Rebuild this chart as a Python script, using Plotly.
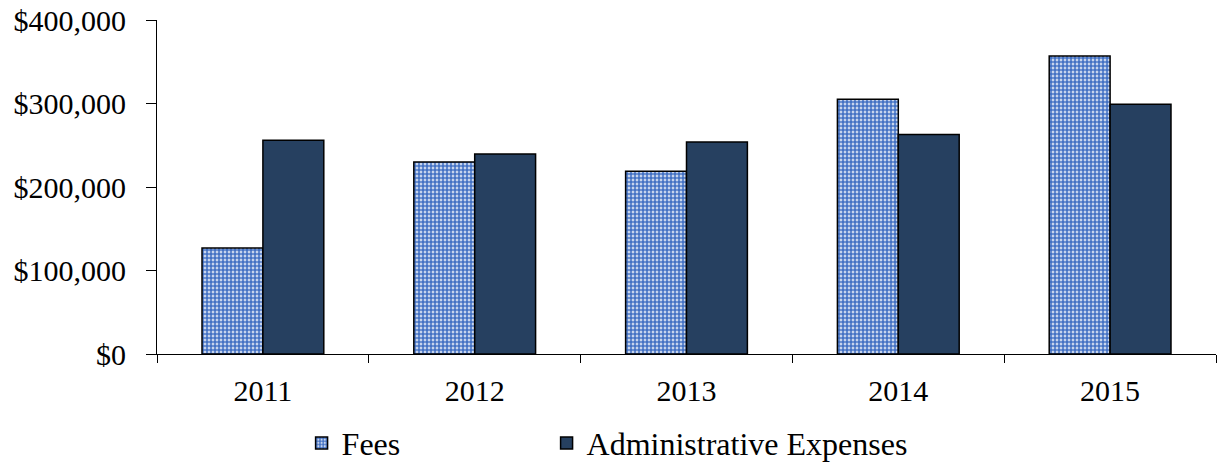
import plotly.graph_objects as go

years = ["2011", "2012", "2013", "2014", "2015"]
fees = [127000, 230000, 219000, 305000, 357000]
admin = [256000, 239500, 254000, 263000, 299000]
y_ticks = [0, 100000, 200000, 300000, 400000]
y_labels = ["$0", "$100,000", "$200,000", "$300,000", "$400,000"]

SERIF = "Liberation Serif"

fig = go.Figure()
fig.add_trace(go.Bar(
    x=years, y=fees, name="Fees",
    marker=dict(
        color="white",
        line=dict(color="black", width=1.5),
        pattern=dict(shape=".", fgcolor="#4472C4", bgcolor="white",
                     size=4, solidity=0.75, fillmode="replace"),
    ),
))
fig.add_trace(go.Bar(
    x=years, y=admin, name="Administrative Expenses",
    marker=dict(color="#264060", line=dict(color="black", width=1.5)),
))
# invisible spacer entry so the last legend label is not clipped
fig.add_trace(go.Scatter(
    x=[None], y=[None], name=" ", mode="markers", hoverinfo="skip",
    marker=dict(color="rgba(0,0,0,0)"),
))

fig.update_layout(
    width=1221, height=463,
    paper_bgcolor="white", plot_bgcolor="white",
    font=dict(family=SERIF, size=30, color="black"),
    margin=dict(l=157, r=5, t=20, b=109, autoexpand=False),
    barmode="group", bargap=0.425, bargroupgap=0,
    showlegend=True,
    legend=dict(orientation="h", xref="container", x=0.247, xanchor="left",
                yref="container", y=0.043, yanchor="middle",
                entrywidth=200, itemwidth=30, traceorder="normal",
                font=dict(family=SERIF, size=32, color="black")),
)
fig.update_xaxes(
    showline=True, linecolor="black", linewidth=1,
    ticks="outside", tickson="boundaries", ticklen=8, tickcolor="black",
    ticklabelstandoff=10,
    showgrid=False,
)
fig.update_yaxes(
    range=[0, 400000], tickvals=y_ticks, ticktext=y_labels,
    showline=True, linecolor="black", linewidth=1,
    ticks="outside", ticklen=10, tickcolor="black", ticklabelstandoff=14,
    ticklabeloverflow="allow",
    showgrid=False, zeroline=False,
)

# drop the browser's default page margin so the figure fills the window exactly
fig.write_html("out.html", config={"displayModeBar": False},
               post_script="document.body.style.margin='0';")
